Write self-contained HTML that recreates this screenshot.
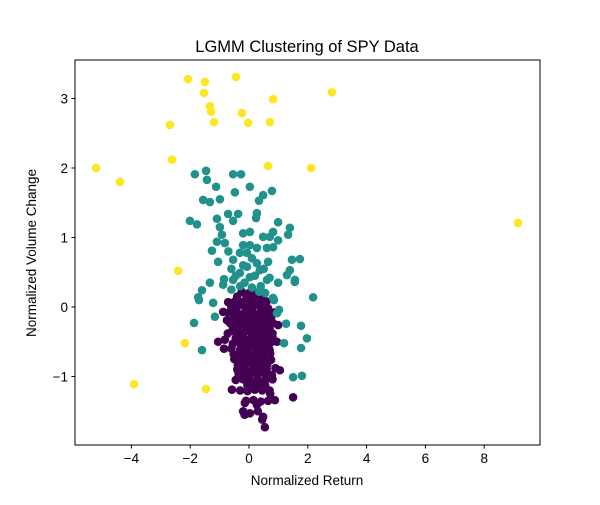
<!DOCTYPE html>
<html><head><meta charset="utf-8"><style>
body{margin:0;background:#fff}
text{font-family:"Liberation Sans","DejaVu Sans",sans-serif;fill:#000}
</style></head><body>
<svg id="chart" width="600" height="500" xmlns="http://www.w3.org/2000/svg">
<rect x="0" y="0" width="600" height="500" fill="#fff"/>
<g id="points"></g>
<rect x="75" y="60" width="465" height="385" fill="none" stroke="#000" stroke-width="1"/>
<g id="xticks"></g>
<g id="yticks"></g>
<text x="307" y="52" font-size="16.5" text-anchor="middle">LGMM Clustering of SPY Data</text>
<text x="307" y="485" font-size="13.5" text-anchor="middle">Normalized Return</text>
<text x="36" y="253" font-size="13.5" text-anchor="middle" transform="rotate(-90 36 253)">Normalized Volume Change</text>
</svg>
<script>
const xTicks=[-4,-2,0,2,4,6,8];
const yTicks=[-1,0,1,2,3];
const yellowX=[-2.07,-1.50,-0.44,-1.53,0.82,2.82,-1.33,-1.29,-0.24,-1.19,-2.69,-0.03,0.71,-2.62,0.65,-5.2,2.11,-4.39,9.15,-2.41,-2.18,-3.91,-1.46];
const yellowY=[3.28,3.24,3.31,3.08,2.99,3.09,2.89,2.81,2.79,2.66,2.62,2.65,2.66,2.12,2.03,2.0,2.0,1.8,1.21,0.52,-0.52,-1.11,-1.18];
const tealX=[-1.84,-1.46,-1.43,-0.54,-0.27,-1.12,0.03,-0.48,-1.56,-1.33,-0.99,0.48,0.34,0.78,-0.71,-0.37,-0.54,-1.09,0.27,0.24,-2.01,-1.77,0.99,1.39,1.33,-0.99,-0.92,-0.20,0.03,0.48,0.71,0.82,0.99,-1.09,-0.82,-1.26,-0.20,0.03,-0.31,-0.07,0.27,0.61,0.82,-1.05,-0.54,-0.07,0.27,0.65,0.37,1.46,1.73,1.39,1.29,1.56,-1.33,-0.88,-0.54,-0.31,0.03,0.61,0.99,-1.60,-1.73,2.18,0.82,-1.70,-1.22,-1.16,-1.87,-1.60,0.85,0.95,1.02,1.26,1.77,1.97,1.19,1.77,1.50,1.80,1.56,-0.6,-0.3,0.1,0.4,0.55,-0.45,0.2,0.5,-0.2,-0.6,0.1,-0.7,-0.85,0.7,-0.15,0.35];
const tealY=[1.91,1.96,1.83,1.91,1.91,1.73,1.73,1.65,1.54,1.51,1.55,1.61,1.53,1.67,1.34,1.34,1.24,1.27,1.35,1.28,1.24,1.19,1.22,1.14,1.04,1.15,1.04,1.06,1.08,1.01,1.01,1.08,0.96,0.94,0.92,0.81,0.89,0.89,0.78,0.78,0.85,0.85,0.86,0.65,0.68,0.58,0.63,0.65,0.53,0.68,0.69,0.53,0.46,0.39,0.35,0.32,0.39,0.49,0.43,0.39,0.35,0.24,0.14,0.14,0.13,0.10,0.06,-0.14,-0.23,-0.62,0.10,-0.09,-0.04,-0.24,-0.27,-0.45,-0.52,-0.59,-1.01,-0.99,0.36,0.25,0.3,0.28,0.3,0.2,0.45,0.45,0.55,0.6,0.55,0.7,0.8,0.4,0.42,0.35,0.22];
const purpleX=[1.5,0.54,0.48,0.03,-0.14,-1.05,-0.82,-0.58,0.88,0.27,0.95,1.05,0.99,-0.71,-0.88,-0.75,-0.37,-0.15,0.45,0.72,
-0.4,-0.1,0.15,0.4,-0.6,-0.35,-0.1,0.15,0.4,0.65,-0.5,-0.25,0,0.25,0.5,0.75,-0.55,-0.3,-0.05,0.2,0.45,0.7,-0.45,-0.2,0.05,0.3,0.55,0.8,-0.6,-0.3,-0.05,0.2,0.45,0.7,-0.85,-0.5,-0.25,0,0.25,0.5,0.75,-0.4,-0.15,0.1,0.35,0.6,0.9,-0.45,-0.2,0.05,0.3,0.55,0.8,-0.3,-0.05,0.2,0.45,0.7,-0.1,0.15,0.4,0.65,-0.2,0.3,
-0.2,0.05,0.3,0.55,-0.4,-0.1,0.2,0.5,-0.3,0.0,0.35,0.6,-0.15,0.1,0.4,-0.35,-0.05,0.25,0.55,
-0.25,0.0,0.28,0.52,
-0.48,-0.22,0.08,0.33,0.6,
-0.7,-0.42,-0.15,0.12,0.38,0.62,0.85,
-0.65,-0.38,-0.12,0.1,0.35,0.58,0.82,
-0.72,-0.45,-0.18,0.08,0.32,0.57,0.8,
-0.55,-0.28,-0.02,0.22,0.48,0.72,
-0.52,-0.28,-0.02,0.22,0.47,0.72,
-0.38,-0.12,0.12,0.38,0.62,
-0.25,0.02,0.28,0.55,0.78,
-0.05,0.22,0.5];
const purpleY=[-1.3,-1.73,-1.58,-1.53,-1.38,-0.5,-0.47,-1.19,-1.34,-1.41,-0.5,-0.91,-0.26,0.07,-0.07,-0.19,-0.37,-1.55,-1.62,-1.25,
0.15,0.17,0.13,0.15,0.0,0.02,-0.01,0.01,0.0,-0.02,-0.15,-0.14,-0.16,-0.15,-0.13,-0.15,-0.3,-0.31,-0.29,-0.3,-0.32,-0.3,-0.45,-0.44,-0.46,-0.45,-0.45,-0.44,-0.6,-0.61,-0.59,-0.6,-0.6,-0.62,-0.6,-0.75,-0.76,-0.74,-0.75,-0.75,-0.76,-0.9,-0.89,-0.91,-0.9,-0.9,-0.88,-1.05,-1.04,-1.06,-1.05,-1.05,-1.04,-1.2,-1.21,-1.19,-1.2,-1.2,-1.35,-1.34,-1.36,-1.35,-1.5,-1.5,
0.07,0.08,0.06,-0.08,-0.22,-0.23,-0.22,-0.23,-0.52,-0.53,-0.52,-0.53,-0.68,-0.82,-0.83,-0.97,-1.12,-1.13,-1.12,
0.22,0.2,0.21,0.2,
0.08,0.07,0.08,0.07,0.08,
-0.08,-0.07,-0.08,-0.07,-0.08,-0.07,-0.08,
-0.23,-0.22,-0.23,-0.22,-0.23,-0.22,-0.23,
-0.38,-0.37,-0.38,-0.37,-0.38,-0.37,-0.38,
-0.53,-0.52,-0.53,-0.52,-0.53,-0.52,
-0.68,-0.67,-0.68,-0.67,-0.68,-0.67,
-0.83,-0.82,-0.83,-0.82,-0.83,
-0.98,-0.97,-0.98,-0.97,-0.98,
-1.13,-1.12,-1.13];
const xs=v=>249+v*29.4;
const ys=v=>307-v*69.5;
const NS="http://www.w3.org/2000/svg";
const pts=document.getElementById('points');
function drawSeries(X,Y,color,name){
  const n=Math.min(X.length,Y.length);
  for(let i=0;i<n;i++){
    const c=document.createElementNS(NS,'circle');
    c.setAttribute('cx',xs(X[i]));c.setAttribute('cy',ys(Y[i]));c.setAttribute('r',4.3);c.setAttribute('fill',color);
    
    
    pts.appendChild(c);
  }
}
drawSeries(purpleX,purpleY,'#440154','cluster-0-point');
drawSeries(tealX,tealY,'#21918c','cluster-1-point');
drawSeries(yellowX,yellowY,'#fde725','cluster-2-point');
const xg=document.getElementById('xticks');
xTicks.forEach(t=>{
  const l=document.createElementNS(NS,'line');
  l.setAttribute('x1',xs(t));l.setAttribute('x2',xs(t));l.setAttribute('y1',445);l.setAttribute('y2',448.5);l.setAttribute('stroke','#000');
  
  
  xg.appendChild(l);
  const tx=document.createElementNS(NS,'text');
  tx.setAttribute('x',xs(t));tx.setAttribute('y',463);tx.setAttribute('font-size','13.5');tx.setAttribute('text-anchor','middle');
  tx.textContent=t<0?'\u2212'+Math.abs(t):String(t);
  
  
  xg.appendChild(tx);
});
const yg=document.getElementById('yticks');
yTicks.forEach(t=>{
  const l=document.createElementNS(NS,'line');
  l.setAttribute('x1',71.5);l.setAttribute('x2',75);l.setAttribute('y1',ys(t));l.setAttribute('y2',ys(t));l.setAttribute('stroke','#000');
  
  
  yg.appendChild(l);
  const tx=document.createElementNS(NS,'text');
  tx.setAttribute('x',68);tx.setAttribute('y',ys(t)+5);tx.setAttribute('font-size','13.5');tx.setAttribute('text-anchor','end');
  tx.textContent=t<0?'\u2212'+Math.abs(t):String(t);
  
  
  yg.appendChild(tx);
});
</script>
</body></html>
